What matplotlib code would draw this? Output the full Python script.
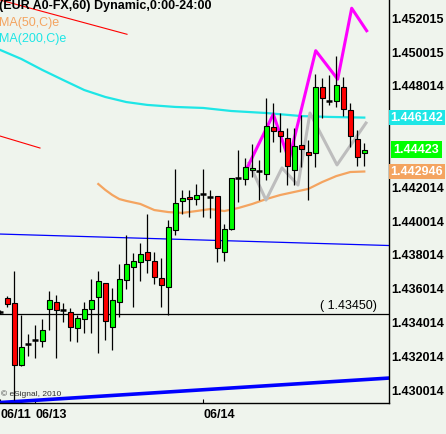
import matplotlib.pyplot as plt
import matplotlib.transforms as mtransforms
from matplotlib.patches import Rectangle

plt.rcParams['font.family'] = ['Liberation Sans', 'DejaVu Sans']

# hourly candles (bar index 0..52)
opens = [1.43464, 1.43547, 1.43517, 1.43150, 1.43274, 1.43298, 1.43292, 1.43481, 1.43523, 1.43476,
         1.43464, 1.43369, 1.43422, 1.43481, 1.43553, 1.43635, 1.43375, 1.43523, 1.43653, 1.43730,
         1.43760, 1.43819, 1.43766, 1.43665, 1.43612, 1.43949, 1.44121, 1.44144, 1.44132, 1.44162,
         1.44144, 1.44150, 1.43819, 1.43955, 1.44257, 1.44251, 1.44304, 1.44298, 1.44280, 1.44558,
         1.44535, 1.44493, 1.44304, 1.44452, 1.44410, 1.44405, 1.44795, 1.44712, 1.44712, 1.44795,
         1.44659, 1.44487, 1.44405]
highs = [1.43476, 1.43558, 1.43706, 1.43446, 1.43334, 1.43387, 1.43422, 1.43588, 1.43564, 1.43517,
         1.43487, 1.43446, 1.43523, 1.43659, 1.43706, 1.43635, 1.43606, 1.43748, 1.43919, 1.43813,
         1.43872, 1.44044, 1.43819, 1.43783, 1.44008, 1.44310, 1.44186, 1.44186, 1.44221, 1.44310,
         1.44186, 1.44150, 1.43984, 1.44257, 1.44422, 1.44375, 1.44458, 1.44363, 1.44730, 1.44700,
         1.44641, 1.44552, 1.44552, 1.44629, 1.44481, 1.44872, 1.44848, 1.44866, 1.44978, 1.44854,
         1.44700, 1.44541, 1.44464]
lows = [1.43452, 1.43493, 1.42943, 1.43144, 1.43203, 1.43192, 1.43257, 1.43357, 1.43192, 1.43405,
        1.43292, 1.43286, 1.43339, 1.43339, 1.43221, 1.43298, 1.43239, 1.43434, 1.43600, 1.43493,
        1.43647, 1.43695, 1.43629, 1.43493, 1.43446, 1.43919, 1.44044, 1.44026, 1.44097, 1.44026,
        1.44020, 1.43760, 1.43766, 1.43949, 1.44115, 1.44215, 1.44263, 1.44126, 1.44245, 1.44470,
        1.44410, 1.44215, 1.44215, 1.44322, 1.44126, 1.44322, 1.44612, 1.44689, 1.44677, 1.44623,
        1.44440, 1.44328, 1.44328]
closes = [1.43464, 1.43511, 1.43150, 1.43257, 1.43274, 1.43298, 1.43357, 1.43535, 1.43476, 1.43476,
          1.43375, 1.43428, 1.43481, 1.43535, 1.43647, 1.43410, 1.43535, 1.43659, 1.43748, 1.43766,
          1.43807, 1.43771, 1.43671, 1.43624, 1.43967, 1.44109, 1.44138, 1.44132, 1.44156, 1.44162,
          1.44144, 1.43842, 1.43955, 1.44257, 1.44257, 1.44322, 1.44316, 1.44298, 1.44564, 1.44535,
          1.44505, 1.44328, 1.44446, 1.44428, 1.44393, 1.44795, 1.44730, 1.44712, 1.44807, 1.44665,
          1.44505, 1.44381, 1.44423]

# moving averages (sampled at bar indices)
ma200_idx = [0, 3, 6, 9, 12, 15, 18, 21, 25, 29, 33, 38, 43, 47, 52]
ma200_val = [1.45014, 1.44961, 1.44896, 1.44836, 1.44777, 1.44736, 1.44706, 1.44689, 1.44677,
             1.44671, 1.44653, 1.44641, 1.44623, 1.44618, 1.44614]
ma50_idx = [14, 15, 16, 17, 18, 20, 22, 24, 26, 28, 30, 32, 34, 36, 38, 40, 42, 44, 46, 48, 50, 52]
ma50_val = [1.44221, 1.44186, 1.44156, 1.44132, 1.44121, 1.44103, 1.44067, 1.44055, 1.44050,
            1.44061, 1.44073, 1.44061, 1.44079, 1.44103, 1.44132, 1.44156, 1.44174, 1.44192,
            1.44233, 1.44268, 1.44292, 1.44295]

# zigzag overlays
pink_idx = [35.34, 39.0, 41.24, 45.06, 48.2, 50.2, 52.34]
pink_val = [1.44323, 1.44634, 1.44363, 1.45010, 1.44841, 1.45261, 1.45128]
gray_idx = [35.53, 37.96, 40.24, 42.53, 44.24, 48.1, 52.24]
gray_val = [1.44345, 1.44126, 1.44316, 1.44215, 1.44641, 1.44334, 1.44582]

# trend lines (start/end)
blue_thin_x = [-0.05, 55.6]
blue_thin_y = [1.43925, 1.43857]
blue_thick_x = [-0.05, 55.6]
blue_thick_y = [1.42928, 1.43073]
red_top_x = [-0.05, 18.1]
red_top_y = [1.45310, 1.45107]
red_mid_x = [-0.05, 5.67]
red_mid_y = [1.44505, 1.44434]
support = 1.4345

ytick_vals = [1.452015, 1.450015, 1.448014, 1.442014, 1.440014, 1.438014,
              1.436014, 1.434014, 1.432014, 1.430014]
xtick_idx = [-0.04, 5, 29]
xtick_labels = ["06/11", "06/13", "06/14"]

bg = "#EFF4ED"
fig = plt.figure(figsize=(4.46, 4.34), dpi=100, facecolor=bg)
ax = fig.add_axes([0, 30.7 / 434, 389 / 446, 403.3 / 434])
ax.set_facecolor(bg)

# lines behind the candles
ax.plot(ma200_idx, ma200_val, color="#1EE6E6", lw=1.6, zorder=2)
ax.plot(ma50_idx, ma50_val, color="#F4A460", lw=1.6, zorder=2)
ax.plot(gray_idx, gray_val, color="#BDBDBD", lw=2.2, zorder=2)
ax.plot(pink_idx, pink_val, color="#FF00FF", lw=2.2, zorder=2)
ax.plot(blue_thin_x, blue_thin_y, color="#0000FF", lw=0.9, zorder=2)
ax.plot(blue_thick_x, blue_thick_y, color="#0000FF", lw=2.6, zorder=2)
ax.plot(red_top_x, red_top_y, color="#FF0000", lw=0.8, zorder=2)
ax.plot(red_mid_x, red_mid_y, color="#FF0000", lw=0.8, zorder=2)
ax.axhline(support, color="black", lw=0.9, zorder=2)

# candles
for i in range(len(opens)):
    o, h, l, c = opens[i], highs[i], lows[i], closes[i]
    ax.vlines(i, l, h, color="black", lw=0.9, zorder=3)
    if o == c:
        ax.hlines(o, i - 0.42, i + 0.42, color="black", lw=1.8, zorder=4)
    else:
        col = "#00FF00" if c > o else "#FF0000"
        ax.add_patch(Rectangle((i - 0.36, min(o, c)), 0.72, abs(c - o),
                               facecolor=col, edgecolor="black", lw=0.8, zorder=4))

ax.set_xlim(-0.043, 55.53)
ax.set_ylim(1.429235, 1.453098)

for s in ["left", "top"]:
    ax.spines[s].set_visible(False)
for s in ["right", "bottom"]:
    ax.spines[s].set_linewidth(1.0)

ax.yaxis.tick_right()
ax.set_yticks(ytick_vals)
ax.set_yticklabels([f"{v:.6f}" for v in ytick_vals], fontsize=9, fontweight="bold")
ax.tick_params(axis="y", length=0, pad=1.5)
ax.set_xticks(xtick_idx)
ax.set_xticklabels(xtick_labels, fontsize=9, fontweight="bold")
ax.tick_params(axis="x", direction="in", length=3, pad=4)
for lbl in ax.get_xticklabels():
    lbl.set_ha("left")

# value boxes on the price scale
trans = mtransforms.blended_transform_factory(ax.transAxes, ax.transData)
ax.text(1.004, 1.446142, "1.446142", transform=trans, va="center", ha="left", color="white",
        fontsize=9, fontweight="bold", zorder=6, clip_on=False,
        bbox=dict(boxstyle="square,pad=0.12", fc="#1EE6E6", ec="none"))
ax.text(1.012, 1.44423, "1.44423", transform=trans, va="center", ha="left", color="white",
        fontsize=9, fontweight="bold", zorder=6, clip_on=False,
        bbox=dict(boxstyle="square,pad=0.2", fc="#00FF00", ec="none"))
ax.text(1.004, 1.442946, "1.442946", transform=trans, va="center", ha="left", color="white",
        fontsize=9, fontweight="bold", zorder=6, clip_on=False,
        bbox=dict(boxstyle="square,pad=0.12", fc="#F4A460", ec="none"))

# support label
ax.text(53.85, support + 0.00012, "( 1.43450)", ha="right", va="bottom", fontsize=9,
        color="black", zorder=5)

# header texts
ax.text(-0.002, 0.999, "(EUR A0-FX,60) Dynamic,0:00-24:00", transform=ax.transAxes,
        ha="left", va="top", fontsize=9, fontweight="bold", color="black", zorder=6)
ax.text(-0.002, 0.958, "MA(50,C)e", transform=ax.transAxes, ha="left", va="top",
        fontsize=9, color="#F4A460", zorder=6)
ax.text(-0.002, 0.918, "MA(200,C)e", transform=ax.transAxes, ha="left", va="top",
        fontsize=9, color="#1EE6E6", zorder=6)
ax.text(0.002, 0.012, "\u00a9 eSignal, 2010", transform=ax.transAxes, ha="left", va="bottom",
        fontsize=6, color="#333333", zorder=6)

fig.savefig("out.png", dpi=100, facecolor=bg)
